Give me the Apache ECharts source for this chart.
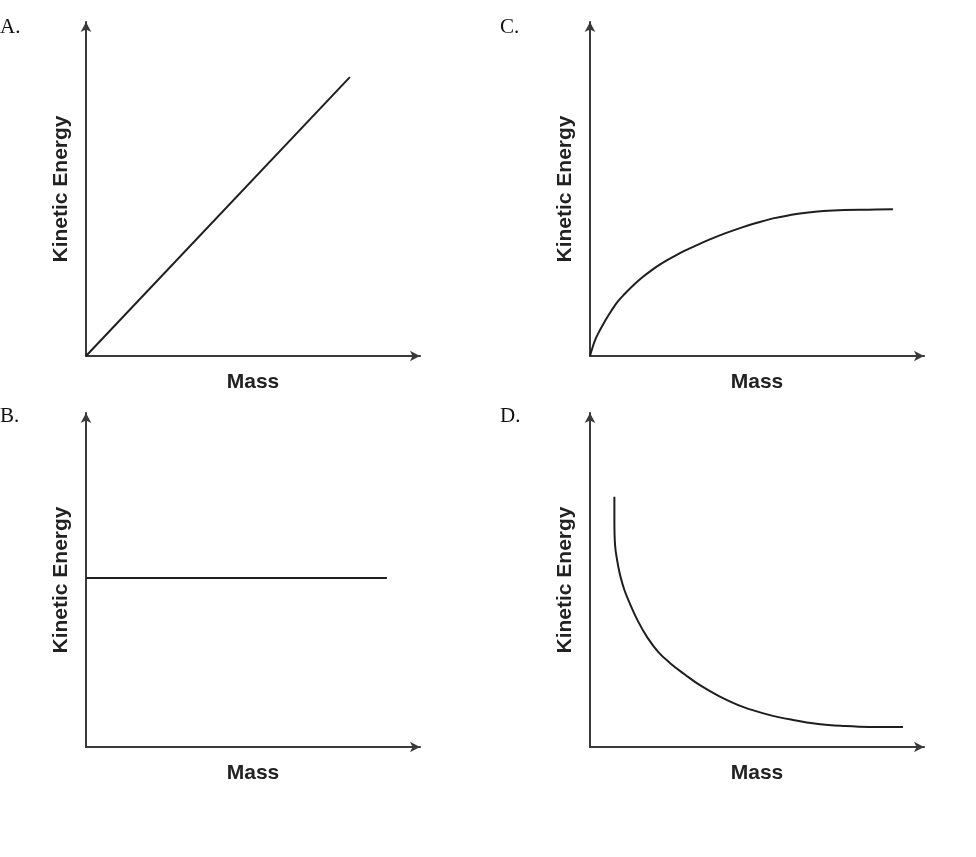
<!DOCTYPE html>
<html>
<head>
<meta charset="utf-8">
<script src="https://cdn.jsdelivr.net/npm/echarts@6/dist/echarts.min.js"></script>
<style>
html,body{margin:0;padding:0;background:#fff;}
#chart{width:976px;height:857px;}
</style>
</head>
<body>
<div id="chart"></div>
<script>
// Panel labels
var panelLabels = ['A.', 'C.', 'B.', 'D.'];
var xAxisName = 'Mass';
var yAxisName = 'Kinetic Energy';

// Data (axis units 0..100)
var seriesA = [[0, 0], [79.0, 83.5]];
var seriesC = [[0, 0], [0.9, 3.0], [1.8, 5.4], [3.0, 7.8], [4.5, 10.5], [6.3, 13.4], [8.4, 16.4], [10.5, 18.7], [12.9, 21.1], [15.6, 23.5], [18.6, 25.8], [21.6, 27.8], [24.9, 29.7], [28.1, 31.4], [32.0, 33.2], [35.9, 34.9], [40.4, 36.7], [44.9, 38.3], [49.7, 39.8], [54.8, 41.2], [59.9, 42.2], [64.7, 42.9], [69.8, 43.4], [76.3, 43.7], [83.2, 43.8], [90.7, 43.9]];
var seriesB = [[0, 50.6], [90.1, 50.6]];
var seriesD = [[7.3, 74.9], [7.3, 68.0], [7.5, 60.5], [8.1, 56.0], [9.0, 51.5], [10.3, 47.0], [12.0, 42.8], [14.4, 37.6], [17.1, 32.9], [20.4, 28.5], [24.0, 25.1], [28.4, 21.7], [32.9, 18.5], [38.9, 15.1], [45.8, 12.0], [53.3, 9.7], [60.8, 8.1], [68.3, 6.9], [75.7, 6.3], [83.8, 6.0], [93.7, 6.0]];

var panelData = [seriesA, seriesC, seriesB, seriesD];

var grids = [
  {left: 86, top: 22, width: 334, height: 334},
  {left: 590, top: 22, width: 334, height: 334},
  {left: 86, top: 413, width: 334, height: 334},
  {left: 590, top: 413, width: 334, height: 334}
];
grids.forEach(function (g) { g.outerBoundsMode = 'none'; g.containLabel = false; });

var titlePos = [
  {left: 0, top: 17},
  {left: 500, top: 17},
  {left: 0, top: 406},
  {left: 500, top: 406}
];

var axisLineStyle = {
  show: true,
  symbol: ['none', 'arrow'],
  symbolSize: [8, 10],
  lineStyle: {color: '#3a3a3a', width: 2}
};
var nameStyle = {
  fontFamily: 'Liberation Sans, Arial, sans-serif',
  fontWeight: 'bold',
  fontSize: 21,
  color: '#222'
};

var xAxes = [], yAxes = [], series = [], titles = [];
for (var i = 0; i < 4; i++) {
  xAxes.push({
    type: 'value', gridIndex: i, min: 0, max: 100,
    name: xAxisName, nameLocation: 'middle', nameGap: 16,
    nameTextStyle: nameStyle,
    axisLine: axisLineStyle, axisTick: {show: false}, axisLabel: {show: false},
    splitLine: {show: false}
  });
  yAxes.push({
    type: 'value', gridIndex: i, min: 0, max: 100,
    name: yAxisName, nameLocation: 'middle', nameGap: 14,
    nameTextStyle: nameStyle,
    axisLine: axisLineStyle, axisTick: {show: false}, axisLabel: {show: false},
    splitLine: {show: false}
  });
  series.push({
    type: 'line', xAxisIndex: i, yAxisIndex: i,
    data: panelData[i],
    smooth: (i === 1 || i === 3) ? 0.4 : false,
    showSymbol: false, symbol: 'none',
    lineStyle: {color: '#1e1e1e', width: 2},
    silent: true, animation: false
  });
  titles.push({
    text: panelLabels[i],
    left: titlePos[i].left, top: titlePos[i].top,
    padding: 0,
    textStyle: {fontFamily: 'Liberation Serif, Times New Roman, serif', fontWeight: 'normal', fontSize: 21, color: '#111'}
  });
}

var chart = echarts.init(document.getElementById('chart'), null, {renderer: 'canvas'});
chart.setOption({
  backgroundColor: '#fff',
  animation: false,
  title: titles,
  grid: grids,
  xAxis: xAxes,
  yAxis: yAxes,
  series: series
});
</script>
</body>
</html>
